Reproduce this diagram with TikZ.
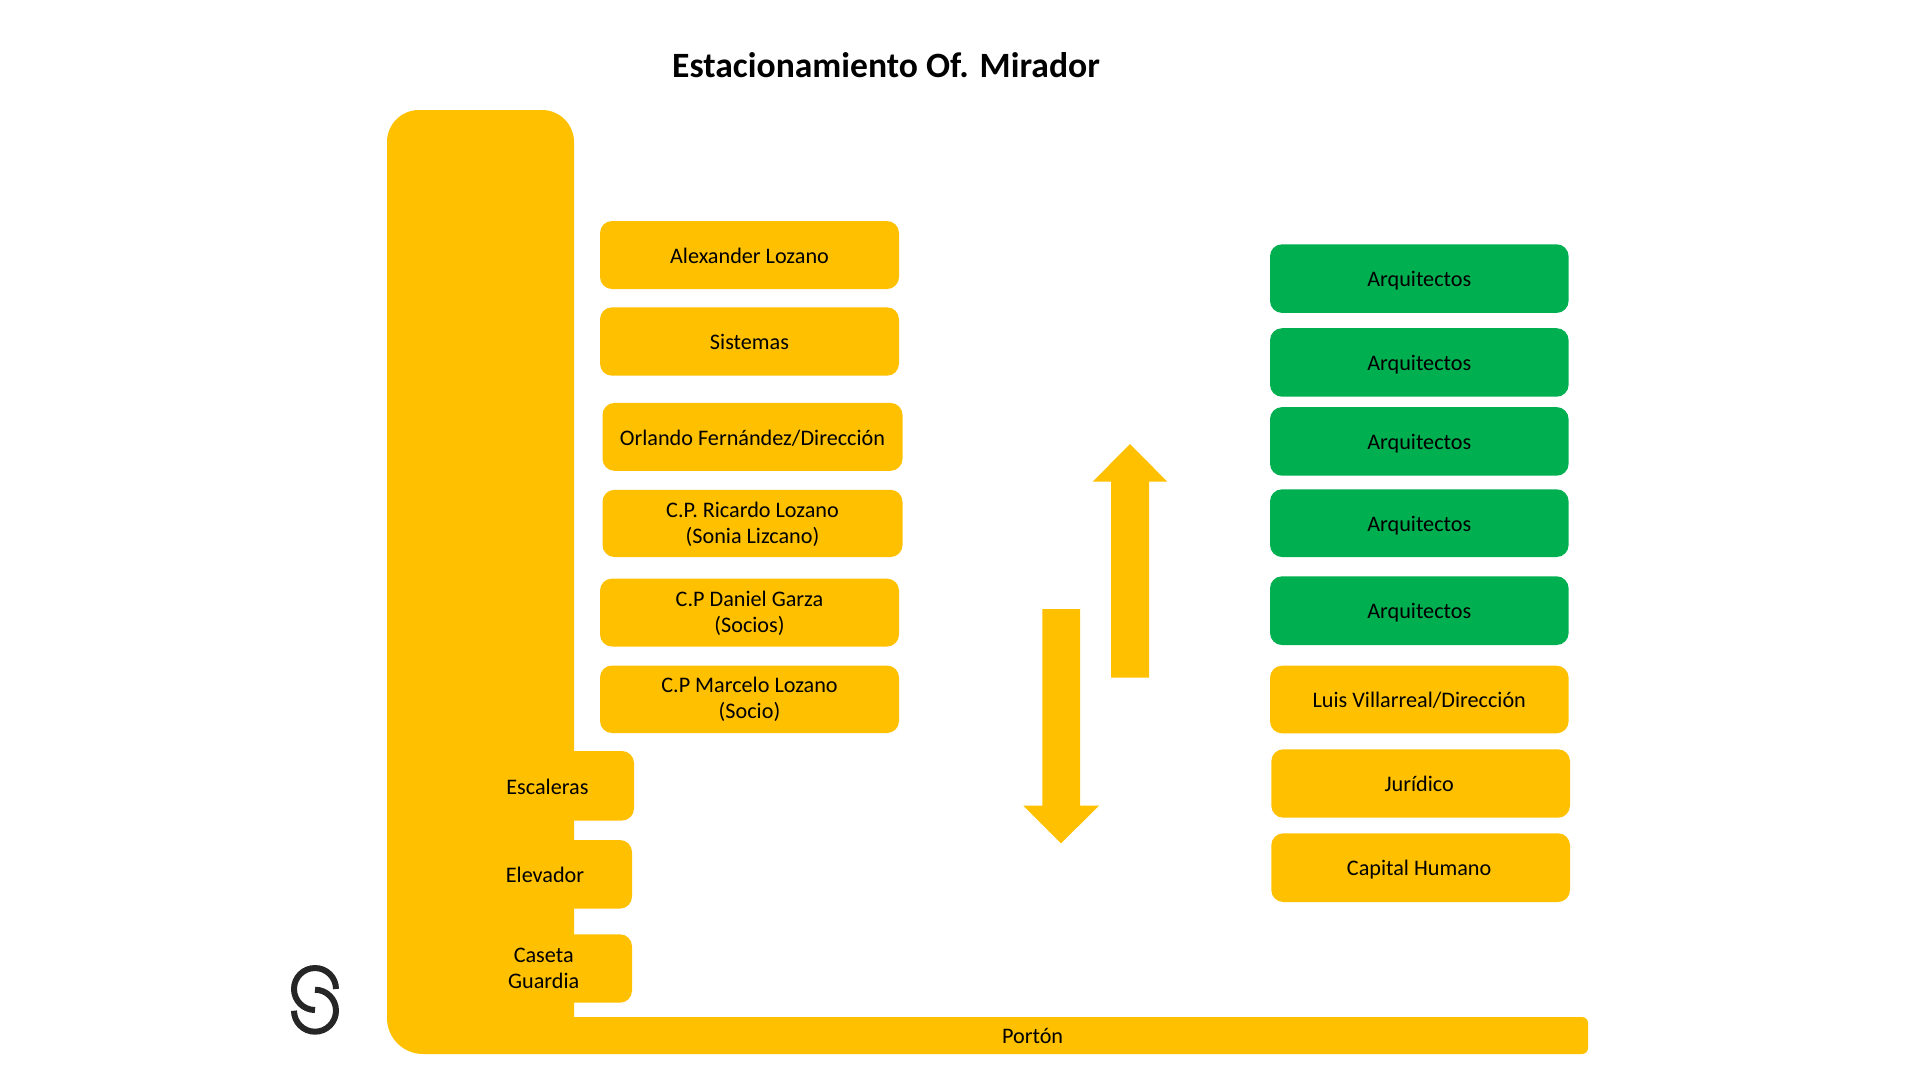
\documentclass[tikz,border=0pt]{standalone}
\usepackage{fontspec}
\setmainfont{Carlito}
\definecolor{amber}{HTML}{FFC000}
\definecolor{leaf}{HTML}{00B050}
\definecolor{ink}{HTML}{262626}
\tikzset{
  x=1pt,y=-1pt,
  card/.style={rounded corners=12pt,inner sep=0pt,align=center,text=black,
    font=\fontsize{22.2}{26}\selectfont},
  ycard/.style={card,fill=amber},
  gcard/.style={card,fill=leaf},
  blockshape/.style={fill=amber,draw=none},
  logoarc/.style={draw=ink,line width=6pt}
}
\newcommand{\cardtop}{\rule{0pt}{22pt}}
\newcommand{\cardbot}{\rule[-5.4pt]{0pt}{5.4pt}}
\newcommand{\twobot}{\rule[-8.6pt]{0pt}{8.6pt}}
\newcommand{\bx}[7]{\node[#2,minimum width={(#5-#3)*1pt},minimum height={(#6-#4)*1pt}] (#1) at ({(#3+#5)/2},{(#4+#6)/2}) {\cardtop #7\cardbot};}
\begin{document}
\begin{tikzpicture}
\useasboundingbox (0,0) rectangle (1920,1080);
\node[font=\fontsize{35.6}{42}\selectfont\bfseries,text=black,inner sep=0pt] (title) at (886,65) {Estacionamiento Of. Mirador};
% main L-shaped parking lane
\fill[amber] (387,142) arc[start angle=180,end angle=270,radius=32] -- (542,110)
  arc[start angle=-90,end angle=0,radius=32] -- (574,1017) -- (1582,1017)
  arc[start angle=-90,end angle=0,radius=6] -- (1588,1048)
  arc[start angle=0,end angle=90,radius=6] -- (423,1054)
  arc[start angle=90,end angle=180,radius=36] -- cycle;
\bx{escaleras}{ycard}{460.8}{751}{634}{820.5}{Escaleras}
\bx{elevador}{ycard}{458}{840}{632}{908.6}{Elevador}
\bx{caseta}{ycard}{455.4}{934.3}{632}{1002.7}{Caseta\\Guardia\twobot}
\node[font=\fontsize{22.2}{26}\selectfont,text=black,inner sep=0pt] (porton) at (1032.6,1036) {Portón};
\bx{alexander}{ycard}{600}{221}{899}{289}{Alexander Lozano}
\bx{sistemas}{ycard}{600}{307.3}{899}{375.7}{Sistemas}
\bx{orlando}{ycard}{602.5}{402.9}{902.5}{470.8}{Orlando Fernández/Dirección}
\bx{ricardo}{ycard}{602.5}{489.8}{902.5}{557}{C.P. Ricardo Lozano\\(Sonia Lizcano)\twobot}
\bx{daniel}{ycard}{600}{578.6}{899}{646.5}{C.P Daniel Garza\\(Socios)\twobot}
\bx{marcelo}{ycard}{600}{665.5}{899}{733}{C.P Marcelo Lozano\\(Socio)\twobot}
\bx{arqa}{gcard}{1270}{244.3}{1568.6}{312.9}{Arquitectos}
\bx{arqb}{gcard}{1270}{328.2}{1568.6}{396.7}{Arquitectos}
\bx{arqc}{gcard}{1270}{407.1}{1568.6}{475.7}{Arquitectos}
\bx{arqd}{gcard}{1270}{489.3}{1568.6}{557}{Arquitectos}
\bx{arqe}{gcard}{1270}{576.3}{1568.6}{645}{Arquitectos}
\bx{luis}{ycard}{1270}{665.7}{1568.6}{733.3}{Luis Villarreal/Dirección}
\bx{juridico}{ycard}{1271.3}{749.3}{1570}{817.7}{Jurídico\hspace*{3pt}}
\bx{capital}{ycard}{1271.3}{833.3}{1570}{902}{Capital Humano\hspace*{3pt}}
% block arrows
\fill[blockshape] (1130,444) -- (1167.3,481.7) -- (1149,481.7) -- (1149,677.7) -- (1111,677.7) -- (1111,481.7) -- (1092.7,481.7) -- cycle;
\fill[blockshape] (1061,843.3) -- (1099,805.7) -- (1080,805.7) -- (1080,609) -- (1042.3,609) -- (1042.3,805.7) -- (1023.3,805.7) -- cycle;
% logo
\draw[logoarc] (336,989) arc[start angle=0,end angle=-270,radius=21];
\draw[logoarc] (315,989.7) arc[start angle=-90,end angle=180,radius=21];
\end{tikzpicture}
\end{document}
